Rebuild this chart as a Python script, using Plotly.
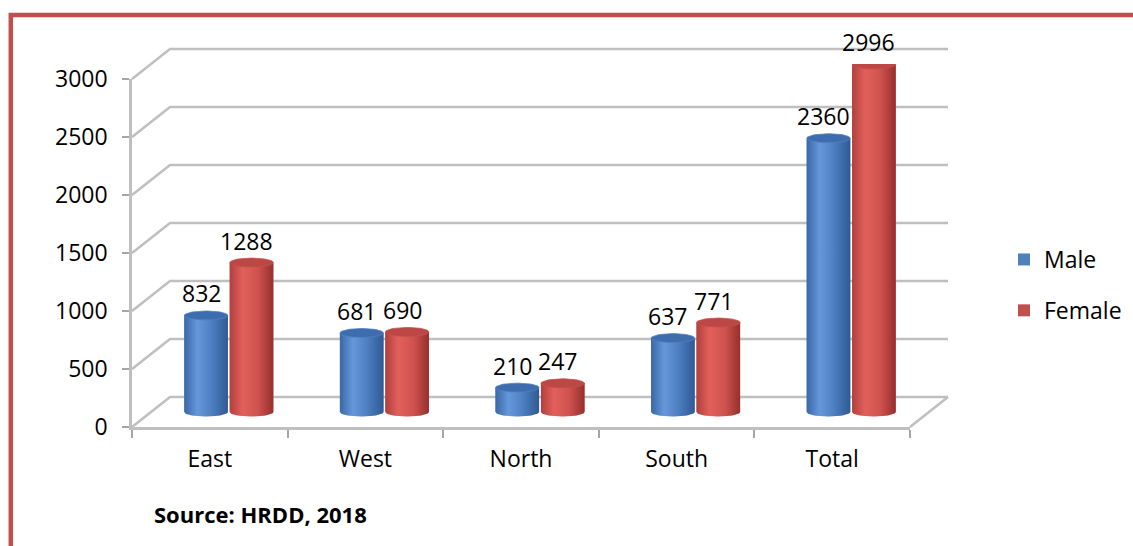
import numpy as np
import plotly.graph_objects as go

# ---- data -------------------------------------------------------------
CATEGORIES = ["East", "West", "North", "South", "Total"]
MALE = [832, 681, 210, 637, 2360]
FEMALE = [1288, 690, 247, 771, 2996]
Y_TICKS = [0, 500, 1000, 1500, 2000, 2500, 3000]
SOURCE_NOTE = "Source: HRDD, 2018"

# ---- geometry of the pseudo-3D frame (pixels) --------------------------
W, H = 1133, 546
FRONT_LEFT, FRONT_RIGHT = 132, 910      # front x axis extent
FRONT_ZERO, FRONT_TOP = 427, 79         # pixel rows of 0 and 3000 on front axis
Y_MAX = 3000
SCALE = (FRONT_ZERO - FRONT_TOP) / Y_MAX  # px per unit
DEPTH_DX, DEPTH_DY = 38, -30            # offset of the back wall
MID_DX, MID_DY = DEPTH_DX / 2, DEPTH_DY / 2
Y2_LO = -100                            # room for the cylinder bottoms

BAR_W = 0.28
BAR_GAP = 0.012
CAP_RY_PX = 4.5

BLUE, RED = "#4F81BD", "#C0504D"
GRID = "#BFBFBF"
FONT = "Open Sans"
FS = 23


def px(xp):
    return xp / W


def py(yp):
    return 1 - yp / H


# axis domains
x_dom = [px(FRONT_LEFT), px(FRONT_RIGHT)]
y_dom = [py(FRONT_ZERO), py(FRONT_TOP)]
x2_dom = [px(FRONT_LEFT + MID_DX), px(FRONT_RIGHT + MID_DX)]
mid_zero = FRONT_ZERO + MID_DY
y2_dom = [py(mid_zero - Y2_LO * SCALE), py(mid_zero - Y_MAX * SCALE)]

fig = go.Figure()

# invisible trace that carries the front category axis
fig.add_trace(go.Scatter(x=CATEGORIES, y=[0] * len(CATEGORIES), mode="markers",
                         marker=dict(opacity=0), xaxis="x", yaxis="y",
                         showlegend=False, hoverinfo="skip"))

xs = np.arange(len(CATEGORIES))
series = [
    ("Male", MALE, BLUE, -(BAR_W + BAR_GAP / 2),
     [[0, "#3A68A6"], [0.3, "#6597DA"], [0.6, "#4F81C4"], [1, "#2F5A94"]], "#3E6DAF"),
    ("Female", FEMALE, RED, BAR_GAP / 2,
     [[0, "#B0403D"], [0.3, "#E2605C"], [0.65, "#CF524F"], [1, "#952F2D"]], "#BD4744"),
]

for name, vals, color, offset, scale, cap_color in series:
    fig.add_trace(go.Bar(x=xs, y=vals, name=name, marker=dict(color=color, line=dict(width=0)),
                         offset=offset, width=BAR_W, xaxis="x2", yaxis="y2",
                         legendgroup=name, hoverinfo="x+y"))

ry = CAP_RY_PX / SCALE
t_low = np.linspace(np.pi, 2 * np.pi, 30)
t_full = np.linspace(0, 2 * np.pi, 60)
rx = BAR_W / 2

for name, vals, color, offset, scale, cap_color in series:
    for i, v in enumerate(vals):
        left = i + offset
        right = left + BAR_W
        cx = (left + right) / 2
        # cylinder body with rounded bottom
        bx = [left] + list(cx + rx * np.cos(t_low)) + [right, right, left, left]
        by = [0] + list(ry * np.sin(t_low)) + [0, v, v, 0]
        fig.add_trace(go.Scatter(x=bx, y=by, mode="lines", fill="toself",
                                 line=dict(width=0), fillgradient=dict(type="horizontal", colorscale=scale),
                                 xaxis="x2", yaxis="y2", showlegend=False, hoverinfo="skip"))
        # top cap
        fig.add_trace(go.Scatter(x=list(cx + rx * np.cos(t_full)), y=list(v + ry * np.sin(t_full)),
                                 mode="lines", fill="toself", fillcolor=cap_color,
                                 line=dict(width=0.8, color=color),
                                 xaxis="x2", yaxis="y2", showlegend=False, hoverinfo="skip"))
        fig.add_annotation(x=cx, y=v, xref="x2", yref="y2", text=str(v), showarrow=False,
                           yanchor="bottom", yshift=4, xshift=-5,
                           font=dict(family=FONT, size=FS, color="#000000"))

# ---- gridlines: front edge -> back wall ---------------------------------
shapes = []
for v in Y_TICKS:
    yf = FRONT_ZERO - v * SCALE
    yb = yf + DEPTH_DY
    path = (f"M {px(FRONT_LEFT)},{py(yf)} L {px(FRONT_LEFT + DEPTH_DX)},{py(yb)} "
            f"L {px(FRONT_RIGHT + DEPTH_DX)},{py(yb)}")
    shapes.append(dict(type="path", path=path, xref="paper", yref="paper",
                       line=dict(color=GRID, width=2.5), layer="below"))
# right edge of the floor
shapes.append(dict(type="line", xref="paper", yref="paper",
                   x0=px(FRONT_RIGHT), y0=py(FRONT_ZERO),
                   x1=px(FRONT_RIGHT + DEPTH_DX), y1=py(FRONT_ZERO + DEPTH_DY),
                   line=dict(color=GRID, width=2.5), layer="below"))
# red frame on the left and top
shapes.append(dict(type="path", xref="paper", yref="paper",
                   path=f"M {px(10.8)},{py(H + 2)} L {px(10.8)},{py(15)} L {px(W + 2)},{py(15)}",
                   line=dict(color="#C0504D", width=4.5)))

fig.add_annotation(x=px(152), y=py(514), xref="paper", yref="paper", text=f"<b>{SOURCE_NOTE}</b>",
                   showarrow=False, xanchor="left", yanchor="middle",
                   font=dict(family=FONT, size=22, color="#000000"))

fig.update_layout(
    width=W, height=H, autosize=False,
    margin=dict(l=0, r=0, t=0, b=0, autoexpand=False),
    paper_bgcolor="white", plot_bgcolor="rgba(0,0,0,0)",
    font=dict(family=FONT, size=FS, color="#000000"),
    shapes=shapes,
    showlegend=True,
    legend=dict(x=px(1004), y=py(285), xanchor="left", yanchor="middle",
                traceorder="grouped", tracegroupgap=18,
                font=dict(family=FONT, size=FS, color="#000000"),
                bgcolor="rgba(0,0,0,0)", itemwidth=30),
    xaxis=dict(type="category", domain=x_dom, range=[-0.5, len(CATEGORIES) - 0.5],
               categoryorder="array", categoryarray=CATEGORIES,
               showline=True, linecolor=GRID, linewidth=2.5, ticks="outside",
               tickson="boundaries", ticklen=8, tickwidth=2, tickcolor="#A6A6A6",
               showgrid=False, zeroline=False, anchor="y", ticklabelstandoff=10,
               fixedrange=True),
    yaxis=dict(domain=y_dom, range=[0, Y_MAX], tickvals=Y_TICKS, ticks="outside",
               ticklen=7, tickwidth=2, tickcolor="#A6A6A6", showline=True,
               linecolor=GRID, linewidth=2.5, showgrid=False, zeroline=False,
               anchor="x", ticklabelstandoff=10, fixedrange=True),
    xaxis2=dict(domain=x2_dom, range=[-0.5, len(CATEGORIES) - 0.5], visible=False,
                anchor="y2", fixedrange=True),
    yaxis2=dict(domain=y2_dom, range=[Y2_LO, Y_MAX], visible=False, anchor="x2",
                fixedrange=True),
)

fig.write_html("out.html")
